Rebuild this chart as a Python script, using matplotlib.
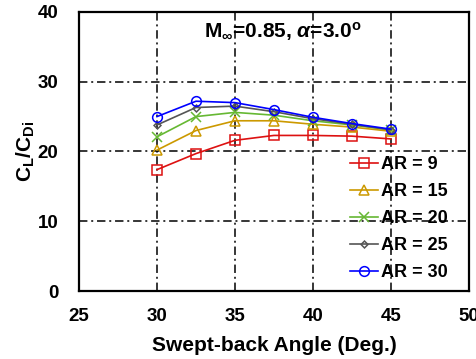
import matplotlib
matplotlib.use("Agg")
import matplotlib.pyplot as plt

plt.rcParams['font.family'] = ['Liberation Sans', 'DejaVu Sans']
plt.rcParams['font.weight'] = 'bold'
plt.rcParams['mathtext.fontset'] = 'custom'
plt.rcParams['mathtext.rm'] = 'Liberation Sans:bold'
plt.rcParams['mathtext.bf'] = 'Liberation Sans:bold'
plt.rcParams['mathtext.it'] = 'Liberation Sans:bold:italic'

sweep = [30, 32.5, 35, 37.5, 40, 42.5, 45]
ar_labels = ['AR = 9', 'AR = 15', 'AR = 20', 'AR = 25', 'AR = 30']
ar9 = [17.4, 19.7, 21.6, 22.3, 22.3, 22.2, 21.8]
ar15 = [20.2, 23.0, 24.4, 24.4, 23.9, 23.5, 22.9]
ar20 = [22.1, 25.0, 25.6, 25.2, 24.4, 23.8, 23.1]
ar25 = [23.8, 26.3, 26.5, 25.7, 24.7, 23.9, 23.1]
ar30 = [25.0, 27.2, 27.0, 26.0, 24.9, 24.0, 23.2]

series = [ar9, ar15, ar20, ar25, ar30]
colors = ['#dd1111', '#cc9900', '#66b833', '#555555', '#0000ff']
markers = ['s', '^', 'x', 'D', 'o']
msizes = [6.5, 6.5, 6.5, 3.5, 7]

fig = plt.figure(figsize=(4.76, 3.59), dpi=100)
ax = fig.add_axes([0.166, 0.189, 0.819, 0.778])

for ys, lab, c, m, ms in zip(series, ar_labels, colors, markers, msizes):
    ax.plot(sweep, ys, color=c, marker=m, ms=ms, mfc='none', mec=c,
            mew=1.1, lw=1.2, label=lab)

ax.set_xlim(25, 50)
ax.set_ylim(0, 40)
ax.set_xticks([25, 30, 35, 40, 45, 50])
ax.set_yticks([0, 10, 20, 30, 40])
ax.tick_params(axis='x', length=0, labelsize=13.5, pad=12)
ax.tick_params(axis='y', length=0, labelsize=13.5, pad=15)
for lbl in ax.get_xticklabels() + ax.get_yticklabels():
    lbl.set_fontweight('bold')

ax.grid(True, color='black', linestyle=(0, (5.5, 2.5, 1.3, 2.5)), lw=1.1)
for sp in ax.spines.values():
    sp.set_linewidth(1.6)

ax.set_xlabel('Swept-back Angle (Deg.)', fontsize=15, fontweight='bold', labelpad=8)
ax.set_ylabel(r'C$_\mathrm{L}$/C$_\mathrm{Di}$', fontsize=15, fontweight='bold', labelpad=0)

ax.text(38.1, 37.1, r'M$_\infty$=0.85, $\alpha$=3.0$^\mathrm{o}$', ha='center',
        va='center', fontsize=15)

leg = ax.legend(loc='lower right', bbox_to_anchor=(0.988, -0.022), frameon=False,
                handlelength=1.55, handletextpad=0.15, labelspacing=0.55,
                borderaxespad=0.5, prop={'weight': 'bold', 'size': 13})

fig.savefig('out.png', dpi=100)
